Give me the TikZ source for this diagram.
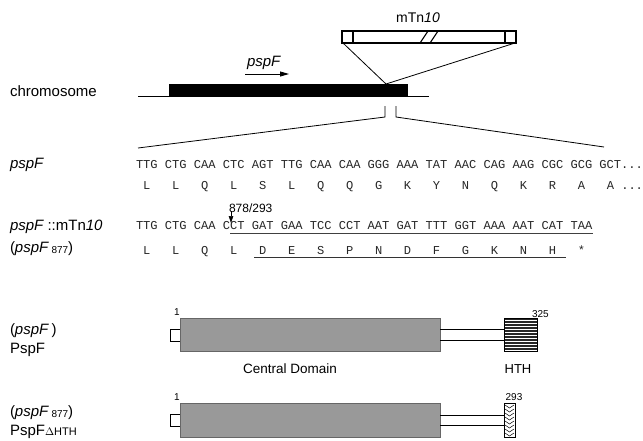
\documentclass[tikz,border=0pt]{standalone}
\usepackage{fontspec}
\setmainfont{Liberation Sans}
\newfontfamily\seqfont{Liberation Mono}
\usetikzlibrary{arrows.meta}
\begin{document}
\begin{tikzpicture}[x=1pt,y=-1pt,
  every node/.style={inner sep=0pt, outer sep=0pt},
  lab/.style={font=\fontsize{15}{15}\selectfont, anchor=west},
  seq/.style={font=\seqfont\fontsize{12.07}{12}\selectfont, anchor=west, text=black!85},
  smalltxt/.style={font=\fontsize{10}{10}\selectfont},
  thinln/.style={line width=0.8pt},
  dombox/.style={fill=black!40, draw=black!60, line width=0.5pt}]
\useasboundingbox (0,0) rectangle (643,440);

% ---------- chromosome ----------
\node[lab] (chrl) at (10,91) {chromosome};
\coordinate (cl) at (138,96);
\coordinate (cr) at (429,96);
\draw[thinln] (cl) -- (cr);
\fill (169,84) rectangle (408,97);
\node[lab, anchor=base west] (pspfarrl) at (247,66) {\itshape pspF};
\coordinate (a1) at (245,74);
\coordinate (a2) at (289,74);
\draw[thinln, -{Triangle[length=9pt,width=5pt]}] (a1) -- (a2);

% ---------- mTn10 ----------
\node[font=\fontsize{14}{14}\selectfont] (tnl) at (418,18) {mTn\textit{10}};
\coordinate (tnbl) at (343,43);
\coordinate (tnbr) at (515,43);
\draw[line width=1.4pt] (342,31) rectangle (516,43);
\draw[line width=1.2pt] (353,31) -- (353,43) (505,31) -- (505,43);
\draw[line width=1.1pt] (420,43) -- (428,31) (430,43) -- (438,31);
\coordinate (ins) at (386,84);
\draw[thinln] (tnbl) -- (ins);
\draw[thinln] (tnbr) -- (ins);

% ---------- zoom lines ----------
\coordinate (tl1) at (385,106);
\coordinate (tl2) at (385,117);
\coordinate (tr1) at (396,106);
\coordinate (tr2) at (396,117);
\coordinate (zl) at (138,148);
\coordinate (zr) at (604,147);
\draw[thinln] (tl1) -- (tl2) -- (zl);
\draw[thinln] (tr1) -- (tr2) -- (zr);

% ---------- sequences ----------
\node[lab] (wtl) at (10,165) {\itshape pspF};
\node[seq] (wtseq) at (136,165) {TTG~CTG~CAA~CTC~AGT~TTG~CAA~CAA~GGG~AAA~TAT~AAC~CAG~AAG~CGC~GCG~GCT...};
\node[seq] (wtaa) at (136,187) {~L~~~L~~~Q~~~L~~~S~~~L~~~Q~~~Q~~~G~~~K~~~Y~~~N~~~Q~~~K~~~R~~~A~~~A~...};

\node[lab] (mutl) at (10,227) {\itshape pspF\upshape\ ::mTn\itshape 10};
\node[lab] (mutl2) at (10,249) {(\textit{pspF}\,\raisebox{-1pt}{\fontsize{10}{10}\selectfont 877})};
\node[seq] (mutseq) at (136,226) {TTG~CTG~CAA~CCT~GAT~GAA~TCC~CCT~AAT~GAT~TTT~GGT~AAA~AAT~CAT~TAA};
\node[seq] (mutaa) at (136,251) {~L~~~L~~~Q~~~L~~~D~~~E~~~S~~~P~~~N~~~D~~~F~~~G~~~K~~~N~~~H~~~*};
\coordinate (u1) at (230,233);
\coordinate (u2) at (593,233);
\draw[line width=0.6pt, black!75] (u1) -- (u2);
\coordinate (v1) at (254,257);
\coordinate (v2) at (566,257);
\draw[line width=0.8pt, black!80] (v1) -- (v2);
\node[font=\fontsize{12}{12}\selectfont, anchor=west] (pos) at (229,208) {878/293};
\coordinate (p1) at (231,211);
\coordinate (p2) at (231,223);
\draw[line width=0.6pt, -{Triangle[length=7pt,width=4.5pt]}] (p1) -- (p2);

% ---------- PspF protein ----------
\node[lab] (pr1a) at (10,331) {(\textit{pspF}\,)};
\node[lab] (pr1b) at (10,350) {PspF};
\node[smalltxt] (one1) at (177,312) {1};
\draw[line width=0.6pt] (170,329) rectangle (180,341);
\filldraw[dombox] (180,318) rectangle (440,351);
\draw[line width=0.6pt] (440,329) -- (504,329) (440,340) -- (504,340);
\fill[black!85] (504,318) rectangle (537,351);
\foreach \yy in {320,323,...,350} \draw[white, line width=0.5pt] (504,\yy) -- (537,\yy);
\draw[line width=0.6pt] (504,318) rectangle (537,351);
\node[smalltxt, anchor=west] (n325) at (532,314) {325};
\node[font=\fontsize{13.5}{13.5}\selectfont] (cd) at (290,369) {Central Domain};
\node[font=\fontsize{13}{13}\selectfont] (hth) at (518,369) {HTH};

% ---------- PspF delta HTH ----------
\node[lab] (pr2a) at (10,413) {(\textit{pspF}\,\raisebox{-1pt}{\fontsize{10}{10}\selectfont 877})};
\node[lab] (pr2b) at (10,432) {PspF{\fontsize{11}{11}\selectfont $\Delta$HTH}};
\node[smalltxt] (one2) at (177,397) {1};
\draw[line width=0.6pt] (180,414) -- (170,414) -- (170,426) -- (180,426);
\filldraw[dombox] (180,403) rectangle (440,437);
\draw[line width=0.6pt] (440,415) -- (504,415) (440,425) -- (504,425);
\draw[line width=0.6pt] (504,403) rectangle (515,437);
\foreach \yy in {405,409,...,433} \draw[line width=0.5pt] (505,\yy) -- (509.5,\yy+3) -- (514,\yy);
\node[smalltxt] (n293) at (514,397) {293};
\end{tikzpicture}
\end{document}
